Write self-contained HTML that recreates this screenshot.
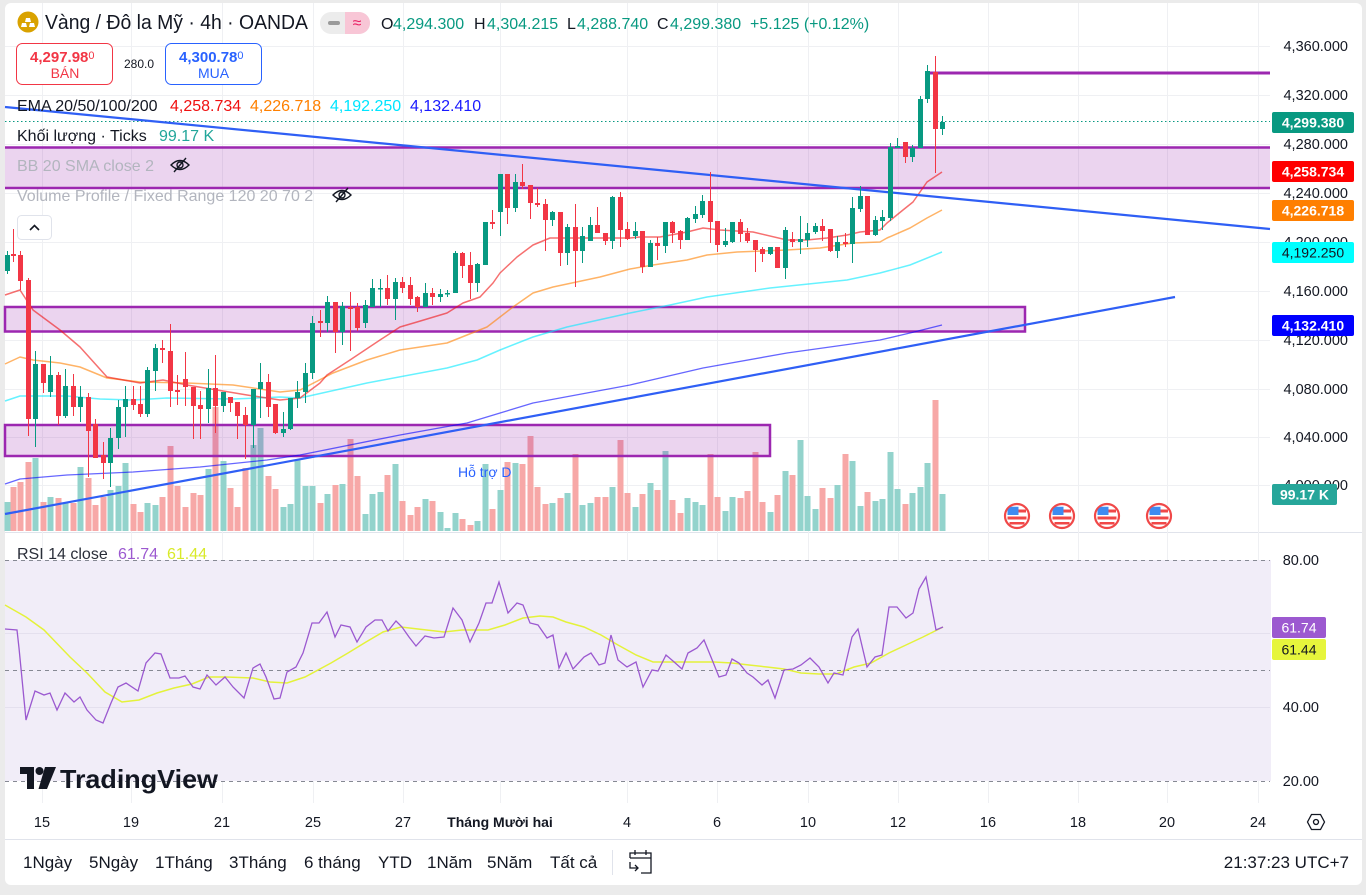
<!DOCTYPE html>
<html><head><meta charset="utf-8"><style>
html,body{margin:0;padding:0;background:#ebebeb;}
svg{display:block;font-family:"Liberation Sans",Arial,sans-serif;}
</style></head><body>
<svg width="1366" height="895" viewBox="0 0 1366 895" xmlns="http://www.w3.org/2000/svg">
<rect x="0" y="0" width="1366" height="895" fill="#ebebeb"/>
<rect x="5" y="3" width="1357" height="882" rx="6" fill="#ffffff"/>
<line x1="5" y1="839.5" x2="1362" y2="839.5" stroke="#e0e3eb"/>
<line x1="5" y1="532.5" x2="1362" y2="532.5" stroke="#e0e3eb"/>

<!-- grid -->
<g stroke="#eff0f3" stroke-width="1">
<path d="M42.5 3V803M131.5 3V803M222.5 3V803M313.5 3V803M403.5 3V803M500.5 3V803M627.5 3V803M717.5 3V803M808.5 3V803M898.5 3V803M988.5 3V803M1078.5 3V803M1167.5 3V803M1258.5 3V803"/>
<path d="M5 46.5H1270M5 95.5H1270M5 144.5H1270M5 193.5H1270M5 242.5H1270M5 291.5H1270M5 340.5H1270M5 389.5H1270M5 437.5H1270M5 485.5H1270"/>
</g>

<!-- RSI pane -->
<rect x="5" y="560" width="1266" height="221" fill="#f1edf8"/>
<path d="M5 633.5H1270M5 707.5H1270" stroke="#e4e0ee"/>
<g stroke="#868993" stroke-dasharray="4 4" stroke-width="1">
<path d="M5 560.5H1270M5 670.5H1270M5 781.5H1270"/>
</g>
<polyline fill="none" stroke="#e4f23a" stroke-width="1.5" points="5,605 26,617 44,630 70,657 87,673 105,692 122,702 139,700 157,693 174,688 192,684 209,677 226,677 253,678 270,682 287,683 305,677 331,663 348,653 366,642 383,632 401,627 418,629 444,632 462,630 488,630 505,625 523,618 540,616 553,617 566,622 584,627 601,635 618,645 636,655 653,662 671,662 697,662 714,662 732,663 749,665 767,667 784,669 801,673 819,674 836,674 854,667 871,663 889,653 906,645 923,637 943,627"/>
<polyline fill="none" stroke="#9b59d0" stroke-width="1.3" points="5,629 17,630 19,648 26,720 35,691 44,695 50,693 57,710 65,693 74,702 80,697 87,710 96,720 103,723 111,703 118,687 126,683 138,691 146,663 155,653 161,654 170,678 179,678 185,676 193,687 200,689 207,675 216,685 225,677 233,687 244,698 253,668 260,664 266,677 274,699 280,698 287,672 296,667 303,653 312,623 319,623 327,612 335,637 341,625 350,627 357,642 366,627 375,620 382,620 388,631 396,621 402,627 409,637 416,646 425,636 434,638 444,637 453,608 462,620 470,642 479,623 486,603 492,603 499,582 508,613 517,603 523,605 530,623 538,625 547,638 553,635 559,668 566,653 573,669 584,657 591,653 599,665 605,663 611,635 618,660 627,667 636,662 643,687 652,670 658,671 666,655 673,661 682,669 688,653 697,648 704,640 713,662 719,677 726,675 732,659 739,663 747,673 753,677 762,685 768,680 775,698 784,670 793,669 801,665 810,658 819,667 828,683 834,673 843,675 852,637 858,629 867,667 875,657 882,655 889,607 897,607 906,618 913,613 919,589 926,577 936,630 943,627"/>

<!-- volume -->
<path fill="#93d3cc" d="M4.5 502h6V531h-6zM32.5 458h6V531h-6zM47.5 497h6V531h-6zM62.5 503h6V531h-6zM77.5 467h6V531h-6zM107.5 490h6V531h-6zM115.5 486h6V531h-6zM122.5 463h6V531h-6zM144.5 503h6V531h-6zM152.5 505h6V531h-6zM205.5 469h6V531h-6zM220.5 461h6V531h-6zM250.5 445h6V531h-6zM257.5 428h6V531h-6zM280.5 507h6V531h-6zM287.5 504h6V531h-6zM294.5 460h6V531h-6zM302.5 486h6V531h-6zM309.5 486h6V531h-6zM324.5 494h6V531h-6zM339.5 484h6V531h-6zM362.5 514h6V531h-6zM369.5 494h6V531h-6zM377.5 492h6V531h-6zM392.5 464h6V531h-6zM422.5 499h6V531h-6zM437.5 512h6V531h-6zM444.5 528h6V531h-6zM452.5 513h6V531h-6zM474.5 521h6V531h-6zM482.5 464h6V531h-6zM497.5 490h6V531h-6zM512.5 463h6V531h-6zM549.5 503h6V531h-6zM564.5 493h6V531h-6zM579.5 505h6V531h-6zM587.5 503h6V531h-6zM609.5 487h6V531h-6zM632.5 507h6V531h-6zM647.5 483h6V531h-6zM662.5 451h6V531h-6zM684.5 498h6V531h-6zM692.5 502h6V531h-6zM699.5 505h6V531h-6zM722.5 511h6V531h-6zM729.5 497h6V531h-6zM767.5 512h6V531h-6zM782.5 471h6V531h-6zM797.5 440h6V531h-6zM804.5 496h6V531h-6zM812.5 509h6V531h-6zM834.5 485h6V531h-6zM849.5 461h6V531h-6zM857.5 506h6V531h-6zM872.5 501h6V531h-6zM879.5 499h6V531h-6zM887.5 452h6V531h-6zM894.5 489h6V531h-6zM909.5 493h6V531h-6zM917.5 487h6V531h-6zM924.5 463h6V531h-6zM939.5 494h6V531h-6z"/>
<path fill="#f7a8a7" d="M10.5 487h6V531h-6zM17.5 482h6V531h-6zM25.5 462h6V531h-6zM40.5 502h6V531h-6zM55.5 498h6V531h-6zM70.5 503h6V531h-6zM85.5 478h6V531h-6zM92.5 505h6V531h-6zM100.5 497h6V531h-6zM130.5 504h6V531h-6zM137.5 512h6V531h-6zM159.5 497h6V531h-6zM167.5 446h6V531h-6zM174.5 486h6V531h-6zM182.5 507h6V531h-6zM190.5 493h6V531h-6zM197.5 495h6V531h-6zM212.5 407h6V531h-6zM227.5 488h6V531h-6zM234.5 507h6V531h-6zM242.5 468h6V531h-6zM265.5 476h6V531h-6zM272.5 489h6V531h-6zM317.5 503h6V531h-6zM332.5 485h6V531h-6zM347.5 439h6V531h-6zM354.5 476h6V531h-6zM384.5 475h6V531h-6zM399.5 501h6V531h-6zM407.5 515h6V531h-6zM414.5 507h6V531h-6zM429.5 501h6V531h-6zM459.5 519h6V531h-6zM467.5 525h6V531h-6zM489.5 509h6V531h-6zM504.5 462h6V531h-6zM519.5 464h6V531h-6zM527.5 436h6V531h-6zM534.5 487h6V531h-6zM542.5 504h6V531h-6zM557.5 498h6V531h-6zM572.5 454h6V531h-6zM594.5 497h6V531h-6zM602.5 497h6V531h-6zM617.5 440h6V531h-6zM624.5 493h6V531h-6zM639.5 494h6V531h-6zM654.5 490h6V531h-6zM669.5 500h6V531h-6zM677.5 513h6V531h-6zM707.5 454h6V531h-6zM714.5 497h6V531h-6zM737.5 498h6V531h-6zM744.5 491h6V531h-6zM752.5 452h6V531h-6zM759.5 502h6V531h-6zM774.5 495h6V531h-6zM789.5 475h6V531h-6zM819.5 488h6V531h-6zM827.5 498h6V531h-6zM842.5 454h6V531h-6zM864.5 492h6V531h-6zM902.5 504h6V531h-6zM932.5 400h6V531h-6z"/>

<!-- zones -->
<rect x="5" y="147" width="1265" height="41" fill="#9c27b0" fill-opacity="0.2"/>
<path d="M5 147.5H1270M5 188H1270" stroke="#9c27b0" stroke-width="2.5"/>
<rect x="5" y="307" width="1020" height="24.5" fill="#9c27b0" fill-opacity="0.2" stroke="#9c27b0" stroke-width="2.5"/>
<rect x="5" y="425" width="765" height="31" fill="#9c27b0" fill-opacity="0.2" stroke="#9c27b0" stroke-width="2.5"/>
<path d="M930 73H1270" stroke="#9c27b0" stroke-width="3"/>

<!-- current price dotted -->
<path d="M5 121.5H1270" stroke="#089981" stroke-dasharray="1.5 2.5" stroke-width="1"/>

<!-- EMAs -->
<g fill="none" stroke-width="1.5" stroke-linejoin="round">
<polyline stroke="#0000ff" stroke-opacity="0.6" stroke-width="1.3" points="5,484 20,479 67,475 133,472 200,467 267,460 300,455 400,435 467,423 533,403 630,385 703,368 787,353 880,340 910,333 942,325"/>
<polyline stroke="#00eaff" stroke-opacity="0.6" points="5,401 20,396 67,396 100,399 133,400 167,398 233,399 280,397 300,398 367,383 447,368 477,360 500,350 533,337 567,327 630,313 670,305 707,297 770,288 847,280 880,273 910,265 942,252"/>
<polyline stroke="#ff8000" stroke-opacity="0.6" points="5,364 20,357 33,360 60,363 80,367 107,378 140,382 187,383 233,385 280,392 300,390 333,373 367,360 400,350 447,343 467,335 487,327 513,307 533,293 553,287 600,277 630,269 653,265 687,260 707,255 737,252 787,250 820,248 853,243 880,242 887,238 910,228 927,218 942,210"/>
<polyline stroke="#f01010" stroke-opacity="0.6" points="5,295 20,290 33,310 60,330 80,347 107,377 140,383 163,380 187,385 217,390 247,395 280,400 300,398 320,383 327,375 350,360 380,340 400,327 417,322 447,313 463,303 480,297 493,283 500,273 517,257 533,245 550,238 590,238 630,238 640,237 660,237 687,232 703,228 720,230 753,232 787,240 807,240 827,238 847,235 860,232 880,230 887,223 903,210 913,202 927,182 942,172"/>
</g>

<!-- trend lines -->
<line x1="5" y1="107" x2="1270" y2="229" stroke="#2f5ff5" stroke-width="2.2"/>
<line x1="5" y1="514" x2="1175" y2="297" stroke="#2f5ff5" stroke-width="2.2"/>

<!-- candles -->
<path stroke="#089981" stroke-width="1" fill="none" d="M7.5 251V274M35.5 351V447M50.5 356V397M65.5 369V418M80.5 386V422M110.5 428V487M118.5 400V449M125.5 386V437M147.5 367V417M155.5 344V391M208.5 369V423M223.5 392V412M253.5 389V448M260.5 363V418M283.5 412V437M290.5 398V430M297.5 381V408M305.5 363V403M312.5 316V379M327.5 296V332M342.5 302V345M365.5 300V328M372.5 279V307M380.5 279V307M395.5 278V320M425.5 283V307M440.5 289V302M447.5 290V297M455.5 251V293M477.5 263V292M485.5 222V265M500.5 174V236M515.5 174V212M552.5 211V226M567.5 224V265M582.5 227V263M590.5 217V241M612.5 196V249M635.5 222V239M650.5 240V267M665.5 222V253M687.5 217V240M695.5 206V223M702.5 195V218M725.5 228V247M732.5 222V243M770.5 247V255M785.5 227V279M800.5 216V254M807.5 223V247M815.5 223V234M837.5 236V258M852.5 197V263M860.5 186V212M875.5 216V236M882.5 210V230M890.5 143V221M897.5 138V148M912.5 145V162M920.5 96V148M927.5 65V103M942.5 116V135"/>
<path fill="#089981" d="M5 255h5v16h-5zM33 364h5v55h-5zM48 375h5v17h-5zM63 386h5v30h-5zM78 397h5v10h-5zM108 438h5v25h-5zM116 407h5v31h-5zM123 399h5v8h-5zM145 370h5v44h-5zM153 348h5v23h-5zM206 388h5v21h-5zM221 392h5v14h-5zM251 389h5v36h-5zM258 382h5v7h-5zM281 429h5v4h-5zM288 398h5v31h-5zM295 392h5v6h-5zM303 373h5v19h-5zM310 323h5v50h-5zM325 302h5v21h-5zM340 306h5v26h-5zM363 305h5v18h-5zM370 288h5v19h-5zM378 288h5v1.5h-5zM393 282h5v17h-5zM423 293h5v14h-5zM438 294h5v3h-5zM445 293h5v1.5h-5zM453 253h5v40h-5zM475 264h5v19h-5zM483 222h5v43h-5zM498 174h5v38h-5zM513 182h5v26h-5zM550 212h5v8h-5zM565 227h5v26h-5zM580 236h5v15h-5zM588 225h5v16h-5zM610 197h5v44h-5zM633 231h5v5h-5zM648 243h5v24h-5zM663 222h5v24h-5zM685 218h5v22h-5zM693 214h5v5h-5zM700 201h5v14h-5zM723 241h5v4h-5zM730 222h5v20h-5zM768 247h5v7h-5zM783 230h5v38h-5zM798 239h5v3h-5zM805 233h5v7h-5zM813 226h5v6h-5zM835 242h5v9h-5zM850 208h5v36h-5zM858 196h5v13h-5zM873 220h5v15h-5zM880 217h5v4h-5zM888 147h5v71h-5zM895 146h5v2h-5zM910 148h5v9h-5zM918 99h5v49h-5zM925 71h5v28h-5zM940 122h5v7h-5z"/>
<path stroke="#f23645" stroke-width="1" fill="none" d="M13.5 229V262M20.5 251V290M28.5 278V436M43.5 364V393M58.5 372V425M73.5 374V416M88.5 393V477M95.5 419V458M103.5 442V479M133.5 386V410M140.5 386V417M162.5 340V363M170.5 324V407M177.5 375V405M185.5 352V406M193.5 387V439M200.5 391V439M215.5 355V433M230.5 397V412M237.5 402V439M245.5 407V459M268.5 374V417M275.5 404V434M320.5 310V337M335.5 302V353M350.5 292V351M357.5 303V331M387.5 275V305M402.5 277V293M410.5 277V305M417.5 296V312M432.5 288V305M462.5 252V278M470.5 252V299M492.5 210V229M507.5 174V224M522.5 164V189M530.5 185V219M537.5 188V207M545.5 199V251M560.5 212V266M575.5 204V287M597.5 207V233M605.5 233V245M620.5 192V247M627.5 222V240M642.5 231V273M657.5 237V260M672.5 221V243M680.5 230V249M710.5 172V243M717.5 221V252M740.5 219V242M747.5 228V243M755.5 240V272M762.5 247V262M777.5 247V268M792.5 232V247M822.5 219V241M830.5 229V252M845.5 233V247M867.5 196V235M905.5 142V163M935.5 56V173"/>
<path fill="#f23645" d="M11 254h5v2h-5zM18 255h5v26h-5zM26 280h5v139h-5zM41 364h5v19h-5zM56 375h5v41h-5zM71 386h5v21h-5zM86 397h5v34h-5zM93 424h5v34h-5zM101 455h5v8h-5zM131 399h5v6h-5zM138 404h5v10h-5zM160 348h5v2h-5zM168 351h5v40h-5zM175 390h5v2h-5zM183 379h5v8h-5zM191 387h5v19h-5zM198 405h5v4h-5zM213 388h5v18h-5zM228 397h5v6h-5zM235 402h5v14h-5zM243 415h5v10h-5zM266 382h5v25h-5zM273 404h5v29h-5zM318 321h5v2h-5zM333 302h5v30h-5zM348 307h5v2h-5zM355 307h5v21h-5zM385 288h5v11h-5zM400 282h5v6h-5zM408 285h5v14h-5zM415 297h5v10h-5zM430 293h5v4h-5zM460 253h5v13h-5zM468 265h5v18h-5zM490 222h5v2h-5zM505 174h5v34h-5zM520 182h5v4h-5zM528 185h5v18h-5zM535 203h5v2h-5zM543 204h5v16h-5zM558 212h5v41h-5zM573 227h5v24h-5zM595 225h5v8h-5zM603 233h5v8h-5zM618 197h5v33h-5zM625 229h5v10h-5zM640 231h5v36h-5zM655 243h5v3h-5zM670 222h5v11h-5zM678 231h5v9h-5zM708 201h5v21h-5zM715 221h5v24h-5zM738 222h5v12h-5zM745 233h5v8h-5zM753 240h5v10h-5zM760 249h5v5h-5zM775 247h5v21h-5zM790 239h5v3h-5zM820 226h5v5h-5zM828 229h5v22h-5zM843 242h5v2h-5zM865 196h5v39h-5zM903 142h5v15h-5zM933 72h5v57h-5z"/>

<text x="458" y="477" font-size="14" fill="#2962ff">Hỗ trợ D</text>

<!-- flags -->
<defs>
<g id="flag">
<circle r="12" fill="#fff" stroke="#f04848" stroke-width="2.2"/>
<rect x="-9" y="-6.5" width="18" height="3" fill="#f04848"/><rect x="-9.5" y="0.5" width="19" height="3" fill="#f04848"/><rect x="-7.5" y="6" width="15" height="2.5" fill="#f04848"/>
<path d="M-9.5 -1V-5A5 5 0 0 1 -4 -9.3H1.5V-1Z" fill="#3f8bf0"/>
</g>
</defs>
<use href="#flag" x="1017" y="516"/>
<use href="#flag" x="1062" y="516"/>
<use href="#flag" x="1107" y="516"/>
<use href="#flag" x="1159" y="516"/>

<!-- price axis ticks -->
<g font-size="14.5" fill="#131722" text-anchor="end">
<text x="1348" y="51">4,360.000</text>
<text x="1348" y="100">4,320.000</text>
<text x="1348" y="149">4,280.000</text>
<text x="1348" y="198">4,240.000</text>
<text x="1348" y="247">4,200.000</text>
<text x="1348" y="296">4,160.000</text>
<text x="1348" y="345">4,120.000</text>
<text x="1348" y="394">4,080.000</text>
<text x="1348" y="442">4,040.000</text>
<text x="1348" y="490">4,000.000</text>
<text x="1319" y="565">80.00</text>
<text x="1319" y="712">40.00</text>
<text x="1319" y="786">20.00</text>
</g>
<g font-size="14" font-weight="bold" text-anchor="middle">
<rect x="1272" y="112" width="82" height="21" rx="2" fill="#089981"/><text x="1313" y="127.5" fill="#fff">4,299.380</text>
<rect x="1272" y="161" width="82" height="21" rx="2" fill="#ff0000"/><text x="1313" y="176.5" fill="#fff">4,258.734</text>
<rect x="1272" y="200" width="82" height="21" rx="2" fill="#ff7f00"/><text x="1313" y="215.5" fill="#fff">4,226.718</text>
<rect x="1272" y="242" width="82" height="21" rx="2" fill="#00ffff"/><text x="1313" y="257.5" fill="#131722" font-weight="normal">4,192.250</text>
<rect x="1272" y="315" width="82" height="21" rx="2" fill="#0000ff"/><text x="1313" y="330.5" fill="#fff">4,132.410</text>
<rect x="1272" y="484" width="65" height="21" rx="2" fill="#26a69a"/><text x="1304.5" y="499.5" fill="#fff">99.17 K</text>
<rect x="1272" y="617" width="54" height="21" rx="2" fill="#9c59d0"/><text x="1299" y="632.5" fill="#fff" font-weight="normal">61.74</text>
<rect x="1272" y="639" width="54" height="21" rx="2" fill="#e6f53c"/><text x="1299" y="654.5" fill="#131722" font-weight="normal">61.44</text>
</g>

<!-- time axis -->
<g font-size="14.5" fill="#131722" text-anchor="middle">
<text x="42" y="827">15</text><text x="131" y="827">19</text><text x="222" y="827">21</text><text x="313" y="827">25</text><text x="403" y="827">27</text>
<text x="500" y="827" font-weight="bold" font-size="14">Tháng Mười hai</text>
<text x="627" y="827">4</text><text x="717" y="827">6</text><text x="808" y="827">10</text><text x="898" y="827">12</text><text x="988" y="827">16</text><text x="1078" y="827">18</text><text x="1167" y="827">20</text><text x="1258" y="827">24</text>
</g>
<g transform="translate(1316,822)" fill="none" stroke="#131722" stroke-width="1.3">
<path d="M-4.5 -7.5H4.5L8.5 0L4.5 7.5H-4.5L-8.5 0Z"/><circle r="2.5"/>
</g>

<!-- bottom toolbar -->
<g font-size="17" fill="#131722">
<text x="23" y="868">1Ngày</text><text x="89" y="868">5Ngày</text><text x="155" y="868">1Tháng</text><text x="229" y="868">3Tháng</text><text x="304" y="868">6 tháng</text><text x="378" y="868">YTD</text><text x="427" y="868">1Năm</text><text x="487" y="868">5Năm</text><text x="550" y="868">Tất cả</text>
<text x="1349" y="868" text-anchor="end">21:37:23 UTC+7</text>
</g>
<line x1="612.5" y1="850" x2="612.5" y2="875" stroke="#e0e3eb"/>
<g fill="none" stroke="#131722" stroke-width="1.3">
<path d="M630 858V853H651V873H641M630 858H651M635 850V855M646 850V855M630 862V868H638M635 865L638 868L635 871"/>
</g>

<!-- TradingView logo -->
<g fill="#131722">
<path d="M20 767H34V789H27V774H20Z"/>
<circle cx="39.5" cy="771" r="4"/>
<path d="M45 767H56L47 789H38.5Z"/>
</g>
<text x="60" y="788" font-size="26" font-weight="bold" fill="#131722" textLength="158" lengthAdjust="spacingAndGlyphs">TradingView</text>

<!-- RSI legend -->
<g font-size="16">
<text x="17" y="559" fill="#2a2e39">RSI 14 close</text>
<text x="118" y="559" fill="#9c59d0">61.74</text>
<text x="167" y="559" fill="#d9ea2a">61.44</text>
</g>

<!-- header -->
<circle cx="28" cy="22" r="10.5" fill="#d9a200"/>
<g fill="#fff"><path d="M21 27H27L26 23H22Z"/><path d="M29 27H35L34 23H30Z"/><path d="M25 22H31L30 18H26Z"/></g>
<text x="45" y="29" font-size="20" fill="#131722" textLength="263" lengthAdjust="spacingAndGlyphs">Vàng / Đô la Mỹ · 4h · OANDA</text>
<rect x="320" y="12" width="50" height="22" rx="11" fill="#ececec"/>
<path d="M345 12H359A11 11 0 0 1 370 23A11 11 0 0 1 359 34H345Z" fill="#f8c6d6"/>
<rect x="328" y="21" width="12" height="4" rx="2" fill="#9a9a9a"/>
<text x="357" y="28" font-size="16" fill="#e91e63" text-anchor="middle">≈</text>
<g font-size="16">
<text x="381" y="29" fill="#131722">O</text><text x="393" y="29" fill="#089981">4,294.300</text>
<text x="474" y="29" fill="#131722">H</text><text x="487" y="29" fill="#089981">4,304.215</text>
<text x="567" y="29" fill="#131722">L</text><text x="577" y="29" fill="#089981">4,288.740</text>
<text x="657" y="29" fill="#131722">C</text><text x="670" y="29" fill="#089981">4,299.380</text>
<text x="750" y="29" fill="#089981">+5.125 (+0.12%)</text>
</g>
<rect x="16.5" y="43.5" width="96" height="41" rx="6" fill="#fff" stroke="#f23645"/>
<text x="30" y="62" font-size="15" font-weight="bold" fill="#f23645">4,297.98<tspan font-size="11" dy="-3" font-weight="normal">0</tspan></text>
<text x="65" y="78" font-size="14" fill="#f23645" text-anchor="middle">BÁN</text>
<text x="124" y="68" font-size="12" fill="#131722">280.0</text>
<rect x="165.5" y="43.5" width="96" height="41" rx="6" fill="#fff" stroke="#2962ff"/>
<text x="179" y="62" font-size="15" font-weight="bold" fill="#2962ff">4,300.78<tspan font-size="11" dy="-3" font-weight="normal">0</tspan></text>
<text x="213.5" y="78" font-size="14" fill="#2962ff" text-anchor="middle">MUA</text>

<g font-size="16">
<text x="17" y="111" fill="#131722">EMA 20/50/100/200</text>
<text x="170" y="111" fill="#f01010">4,258.734</text>
<text x="250" y="111" fill="#ff8000">4,226.718</text>
<text x="330" y="111" fill="#00e5ff">4,192.250</text>
<text x="410" y="111" fill="#1a1aff">4,132.410</text>
<text x="17" y="141" fill="#131722">Khối lượng · Ticks</text>
<text x="159" y="141" fill="#22a69a">99.17 K</text>
<text x="17" y="171" fill="#b2b5be">BB 20 SMA close 2</text>
<text x="17" y="201" fill="#b2b5be">Volume Profile / Fixed Range 120 20 70 2</text>
</g>
<g fill="none" stroke="#131722" stroke-width="1.4">
<g transform="translate(180,165)"><path d="M-9 0Q0 -9 9 0Q0 9 -9 0Z"/><circle r="3"/><path d="M-6 7L6 -7"/></g>
<g transform="translate(342,195)"><path d="M-9 0Q0 -9 9 0Q0 9 -9 0Z"/><circle r="3"/><path d="M-6 7L6 -7"/></g>
</g>
<rect x="17.5" y="215.5" width="34" height="24" rx="4" fill="#fff" stroke="#e0e3eb"/>
<path d="M30 230L34.5 225.5L39 230" fill="none" stroke="#131722" stroke-width="1.6"/>
</svg>
</body></html>
